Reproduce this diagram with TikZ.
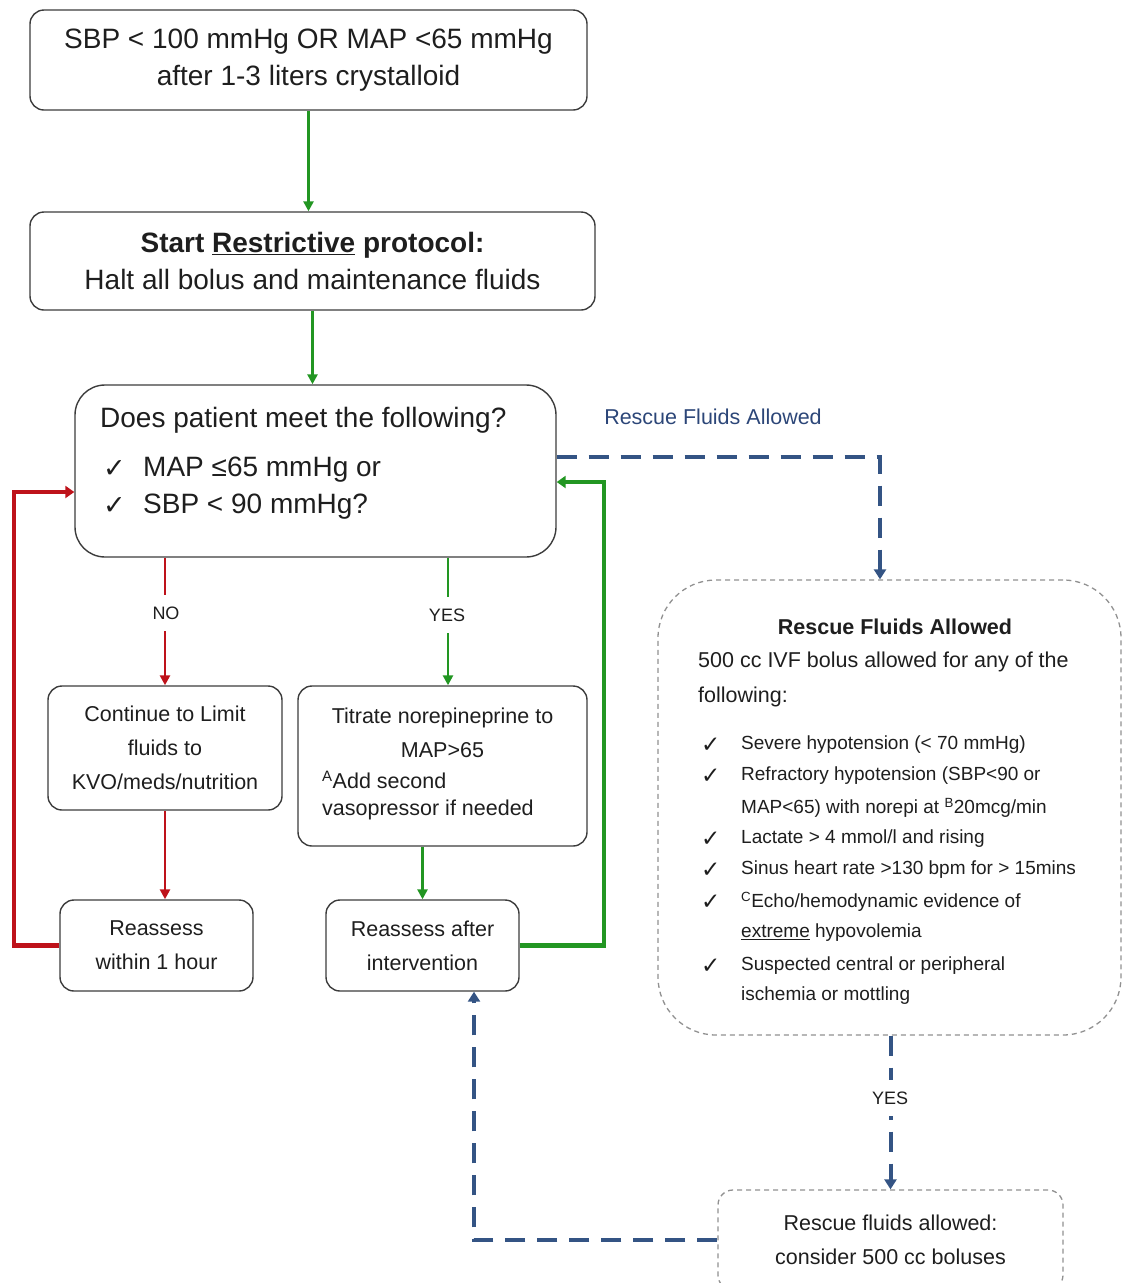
\documentclass[tikz,border=0pt]{standalone}
\usepackage{fontspec}
\setmainfont{Liberation Sans}
\newfontfamily\symfont{DejaVu Sans}
\usetikzlibrary{arrows.meta,positioning}

\definecolor{flowred}{RGB}{190,18,26}
\definecolor{flowgreen}{RGB}{34,150,34}
\definecolor{flowblue}{RGB}{52,84,132}
\definecolor{labelblue}{RGB}{44,70,120}
\definecolor{boxgray}{RGB}{60,60,60}
\definecolor{dashgray}{RGB}{145,145,145}
\definecolor{inkgray}{RGB}{30,30,30}

\newcommand{\flowbig}{\fontsize{28}{37}\selectfont}
\newcommand{\flowmid}{\fontsize{21.5}{34}\selectfont}
\newcommand{\flowlist}{\fontsize{19}{31}\selectfont}
\newcommand{\flowtag}{\fontsize{18}{20}\selectfont}

\tikzset{box/.style={draw=boxgray,line width=1.4pt,rounded corners=14pt,
    align=center,inner sep=0pt,text=inkgray}}
\tikzset{rescbox/.style={draw=dashgray,line width=1.3pt,dash pattern=on 5pt off 4pt,
    inner sep=0pt}}
\tikzset{txt/.style={anchor=west,inner sep=0pt,text=inkgray}}
\tikzset{tick/.style={anchor=west,inner sep=0pt,text=inkgray,font=\symfont\fontsize{23}{23}\selectfont}}
\tikzset{bigtick/.style={tick,font=\symfont\fontsize{27}{27}\selectfont}}
\tikzset{tag/.style={fill=white,inner xsep=3pt,inner ysep=12pt,font=\flowtag,text=inkgray}}
\tikzset{redptr/.style={draw=flowred,line width=2.8pt,-{Triangle[length=10pt,width=10pt]}}}
\tikzset{greenptr/.style={draw=flowgreen,line width=2.8pt,-{Triangle[length=10pt,width=10pt]}}}
\tikzset{redloop/.style={draw=flowred,line width=4.5pt,-{Triangle[length=9pt,width=12pt]}}}
\tikzset{greenloop/.style={draw=flowgreen,line width=4.5pt,-{Triangle[length=9pt,width=12pt]}}}
\tikzset{blueptr/.style={draw=flowblue,line width=4pt,dash pattern=on 20pt off 12pt,
    -{Triangle[length=10pt,width=12pt]}}}

\begin{document}
\begin{tikzpicture}[x=1pt,y=-1pt]

	  \useasboundingbox (0,0) rectangle (1122,1283);

	  % top of the protocol
	  \node [box,minimum width=557pt,minimum height=100pt,font=\flowbig] (lowbp) at (308.5,60)
	    {SBP < 100 mmHg OR MAP <65 mmHg\\after 1-3 liters crystalloid};
	  \node [box,minimum width=565pt,minimum height=98pt,font=\flowbig] (restrict) at (312.5,261)
	    {\textbf{Start \underline{Restrictive} protocol:}\\Halt all bolus and maintenance fluids};

	  % decision box
	  \node [box,rounded corners=30pt,minimum width=481pt,minimum height=172pt] (dec) at (315.5,471) {};
	  \node [txt,font=\flowbig] (ask) at (100,420) {Does patient meet the following?};
	  \node [bigtick] (askck1) at (103,469) {✓};
	  \node [txt,font=\flowbig] (askmap) at (143,470) {MAP ≤65 mmHg or};
	  \node [bigtick] (askck2) at (103,506) {✓};
	  \node [txt,font=\flowbig] (asksbp) at (143,507) {SBP < 90 mmHg?};

	  \draw [greenptr] (lowbp.south) -- (lowbp.south |- restrict.north);
	  \draw [greenptr] (restrict.south) -- (restrict.south |- dec.north);

	  % NO branch
	  \node [box,minimum width=234pt,minimum height=124pt,font=\flowmid] (limit) at (165,748)
	    {Continue to Limit\\fluids to\\KVO/meds/nutrition};
	  \node [box,minimum width=193pt,minimum height=91pt,font=\flowmid] (rwithin) at (156.5,945.5)
	    {Reassess\\within 1 hour};

	  \draw [redptr] (limit.north |- dec.south) -- (limit.north);
	  \node [tag] (nolab) at (166,613) {NO};
	  \draw [redptr] (limit.south) -- (limit.south |- rwithin.north);

	  % YES branch
	  \node [box,minimum width=289pt,minimum height=160pt] (titrate) at (442.5,766) {};
	  \node [inner sep=0pt,font=\flowmid,text=inkgray] (titr1) at (442.5,718) {Titrate norepineprine to};
	  \node [inner sep=0pt,font=\flowmid,text=inkgray] (titr2) at (442.5,750) {MAP>65};
	  \node [txt,font=\flowmid] (titr3) at (322,780) {\textsuperscript{A}Add second};
	  \node [txt,font=\flowmid] (titr4) at (322,810) {vasopressor if needed};
	  \node [box,minimum width=193pt,minimum height=91pt,font=\flowmid] (rafter) at (422.5,945.5)
	    {Reassess after\\intervention};

	  \draw [greenptr] (dec.south -| 448,0) -- (titrate.north -| 448,0);
	  \node [tag] (yeslab) at (447,615) {YES};
	  \draw [greenptr] (rafter.north |- titrate.south) -- (rafter.north);

	  % loops back to the question
	  \coordinate (redturn) at (14,492);
	  \coordinate (greenturn) at (604,482);
	  \draw [redloop] (rwithin.west) -| (redturn) -- (redturn -| dec.west);
	  \draw [greenloop] (rafter.east) -| (greenturn) -- (greenturn -| dec.east);

	  % rescue side
	  \node [rescbox,rounded corners=58pt,minimum width=463pt,minimum height=455pt] (resc) at (889.5,807.5) {};
	  \node [inner sep=0pt,font=\flowmid\bfseries,text=inkgray] (resctitle) at (895,627) {Rescue Fluids Allowed};
	  \node [txt,font=\flowmid] (resc1) at (698,662) {500 cc IVF bolus allowed for any of the};
	  \node [txt,font=\flowmid] (resc2) at (698,697) {following:};

	  \foreach \yy in {745,776,839,870,902,966}
	    \node [tick] (rck\yy) at (701,\yy) {✓};

	  \node [txt,font=\flowlist] (item1) at (741,745) {Severe hypotension (< 70 mmHg)};
	  \node [txt,font=\flowlist] (item2) at (741,776) {Refractory hypotension (SBP<90 or};
	  \node [txt,font=\flowlist] (item2b) at (741,808) {MAP<65) with norepi at \textsuperscript{B}20mcg/min};
	  \node [txt,font=\flowlist] (item3) at (741,839) {Lactate > 4 mmol/l and rising};
	  \node [txt,font=\flowlist] (item4) at (741,870) {Sinus heart rate >130 bpm for > 15mins};
	  \node [txt,font=\flowlist] (item5) at (741,902) {\textsuperscript{C}Echo/hemodynamic evidence of};
	  \node [txt,font=\flowlist] (item5b) at (741,933) {\underline{extreme} hypovolemia};
	  \node [txt,font=\flowlist] (item6) at (741,966) {Suspected central or peripheral};
	  \node [txt,font=\flowlist] (item6b) at (741,996) {ischemia or mottling};

	  \node [rescbox,rounded corners=15pt,minimum width=345pt,minimum height=100pt,
	         align=center,font=\flowmid,text=inkgray] (bolus) at (890.5,1240)
	    {Rescue fluids allowed:\\consider 500 cc boluses};

	  \node [inner sep=0pt,font=\flowmid,text=labelblue] (resclab) at (713,417) {Rescue Fluids Allowed};

	  \coordinate (blueturn) at (880,457);
	  \draw [blueptr] (blueturn -| dec.east) -- (blueturn) -- (blueturn |- resc.north);
	  \draw [blueptr] (resc.south -| bolus.north) -- (bolus.north);
	  \node [tag] (yeslab2) at (890,1098) {YES};
	  \draw [blueptr] (bolus.west) -| ([xshift=51.5pt]rafter.south);

\end{tikzpicture}
\end{document}
